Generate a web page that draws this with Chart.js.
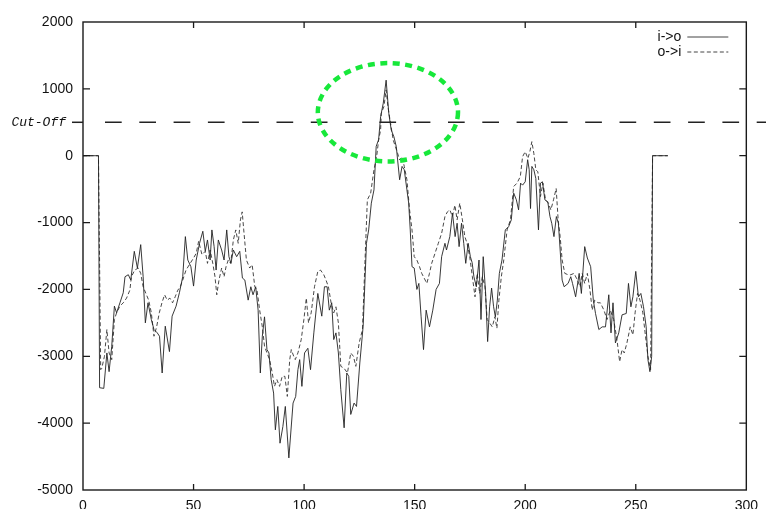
<!DOCTYPE html>
<html>
<head>
<meta charset="utf-8">
<script src="https://cdn.jsdelivr.net/npm/chart.js@4.4.0/dist/chart.umd.min.js"></script>
<style>
  html, body { margin: 0; padding: 0; background: #fff; }
</style>
</head>
<body>
<canvas id="chart" width="766" height="509"></canvas>
<script>
const seriesLabels = ['i->o', 'o->i'];

// i->o (solid)
const ioX = [0, 7, 7.5, 9.4, 10.8, 11.8, 13, 14.2, 15.2, 16.7, 18.2, 19, 20.5, 21.6, 23.2, 24.6, 26.1, 27.2, 28.2, 29.4,
  30.9, 32.1, 33.6, 34.6, 35.8, 37.2, 39.1, 40.3, 42.1, 43.6, 45.1, 46.3, 47.4, 48.8, 50, 51.2, 52.7, 54.2, 55.3, 56.3,
  57.5, 58.3, 59.3, 60.2, 61.2, 62.7, 63.8, 65, 66, 66.9, 68, 69.5, 70.9, 72.1, 73.2, 74.7, 75.9, 76.9, 78.1, 79.2,
  80.2, 81.1, 82.1, 83.2, 84.1, 85.1, 86.2, 87, 88.1, 89.1, 90.4, 91.5, 93.1, 95, 96.2, 97.2, 98, 99, 100.2, 101.7,
  102.9, 104.4, 106.2, 108, 109.2, 110.4, 111.4, 112.5, 113.4, 114.4, 115.5, 116.6, 118.1, 119.3, 120.2, 121.1, 122.6, 123.7, 125.2, 126.7,
  128.2, 129.2, 130.4, 131.6, 132.6, 133.7, 134.6, 135.8, 137.1, 138.3, 139.4, 140.6, 141.7, 142.3, 143.2, 144.3, 145.3, 146.5, 147.3, 148,
  148.8, 149.8, 151, 151.9, 152.9, 154, 155.2, 156.7, 158.2, 159.7, 161.2, 162.2, 163.7, 164.4, 165.9, 167.1, 168.3, 169.2, 170.1, 171.2,
  172.2, 173.1, 174.2, 175.2, 176, 176.8, 177.9, 179.1, 180, 181, 182.1, 183, 183.9, 184.8, 185.7, 186.5, 187.4, 188.3, 189.5, 191,
  192.5, 193.7, 194.8, 196, 197, 197.9, 198.8, 200, 201.1, 201.8, 202.4, 203, 203.9, 204.8, 206, 206.9, 207.8, 208.9, 210.2, 211.2,
  212, 213, 214.1, 215, 215.8, 216.7, 217.6, 219.4, 220.6, 221.4, 222.8, 224.4, 225.4, 226.9, 228.1, 229.6, 230.8, 231.8, 233.3, 234.8,
  236.3, 237.8, 238.8, 239.7, 240.8, 242.3, 243.8, 245.7, 246.7, 247.8, 248.7, 250, 251.2, 252.3, 253.5, 254.7, 255.5, 256.4, 257.2, 257.6,
  264.5];
const ioY = [0, 0, -3470, -3480, -2950, -3230, -2850, -2250, -2350, -2200, -2050, -1810, -1780, -1860, -1430, -1680, -1330, -1810, -2500, -2200,
  -2450, -2600, -2650, -2700, -3250, -2550, -2930, -2400, -2250, -2050, -1810, -1210, -1560, -1660, -1950, -1560, -1310, -1130, -1430, -1260,
  -1560, -1110, -1360, -1710, -1260, -1410, -1560, -1110, -1510, -1610, -1410, -1510, -1430, -1830, -1860, -2160, -1960, -2080, -1960, -2310,
  -3250, -2700, -2410, -2900, -2950, -3350, -3550, -4100, -3750, -4300, -4050, -3750, -4520, -3700, -3600, -3200, -3050, -3450, -2950, -2880,
  -3200, -2650, -2060, -2400, -1960, -1960, -2310, -2200, -2750, -2650, -2950, -3500, -4070, -3250, -3300, -3870, -3700, -3750, -3100, -2550,
  -1310, -1110, -710, -510, 140, 240, 585, 785, 1130, 635, 385, 285, 135, -65, -360, -160, -210, -510, -710, -1110,
  -1660, -1680, -2000, -1910, -2400, -2900, -2310, -2560, -2310, -2000, -1910, -1510, -1310, -1410, -1210, -860, -1210, -1010, -1360, -1010,
  -1310, -1610, -1310, -1510, -1600, -1810, -1960, -1560, -2450, -1510, -2060, -2780, -2260, -1980, -2260, -2410, -2160, -1760, -1560, -1110,
  -1060, -960, -560, -660, -810, -410, -440, -390, -60, -210, -790, -160, -210, -340, -1110, -410, -390, -660, -690, -910,
  -1010, -1210, -910, -1010, -1410, -1860, -1960, -1910, -1810, -1910, -2110, -1760, -2060, -1360, -1530, -1660, -2160, -2360, -2600, -2560,
  -2560, -2080, -2650, -2200, -2800, -2650, -2380, -2360, -1910, -2260, -2110, -1730, -2110, -2060, -2260, -2560, -3050, -3230, -3000, 0,
  0];

// o->i (dashed)
const oiX = [0, 7, 8, 8.5, 9.7, 10.8, 11.8, 13, 14.2, 15.2, 16.7, 18.2, 19.7, 21.2, 21.9, 23.4, 25, 26.1, 27.2, 28.7,
  29.7, 30.9, 32.1, 33.3, 34.5, 35.7, 36.9, 38.1, 39.3, 40.5, 41.7, 42.9, 44, 45.1, 46.6, 48.1, 50, 51.2, 52.3, 53.8,
  55.3, 56.3, 57.5, 58.7, 59.7, 60.5, 61.5, 62.7, 63.8, 64.7, 65.7, 66.8, 68, 69.1, 70.2, 71.2, 72, 72.7, 73.9, 75.4,
  76.5, 77.7, 78.7, 79.9, 81.1, 82.1, 83.2, 84.4, 85.6, 86.6, 87.7, 88.9, 90.1, 91.3, 92.4, 93.5, 94.2, 95.3, 96, 97.2,
  98.7, 99.9, 101, 102, 103.2, 104.7, 106.2, 107.4, 108.9, 109.9, 111, 112.2, 113.4, 114.4, 115.5, 116.6, 118.1, 119.6, 121.1, 122.3,
  123.4, 124.9, 126.4, 127.4, 128.6, 130.1, 131.6, 132.8, 133.7, 134.6, 134.9, 136.1, 137.1, 137.9, 139.1, 140.3, 141.3, 142.3, 143.2, 144.3,
  145.3, 146.5, 147.7, 148.8, 149.8, 151, 152.2, 153.2, 154.3, 155.5, 156.7, 157.7, 159.2, 160.7, 162.2, 163.7, 164.8, 165.9, 167.1, 168.2,
  169.2, 170.4, 171.6, 172.7, 173.7, 174.9, 176.1, 177.3, 178.3, 179.4, 180.6, 181.8, 182.8, 183.9, 185.1, 186.3, 187.2, 188.1, 189.2, 190.3,
  191.8, 193.3, 194.8, 196.3, 197.8, 198.8, 200, 201.2, 202.1, 203, 203.9, 204.8, 205.7, 206.9, 208, 209.2, 210.5, 211.6, 212.8, 214,
  214.9, 215.8, 216.7, 217.9, 219.4, 220.6, 222.1, 223.6, 224.8, 225.8, 226.9, 228.1, 229.3, 230.3, 231.4, 232.9, 234, 235.6, 237, 238.5,
  240, 241.5, 242.7, 243.8, 244.8, 246, 247.5, 248.7, 249.7, 250.8, 251.9, 253.2, 254.4, 255.5, 256.7, 257.6, 264.5];
const oiY = [0, 0, -3200, -3180, -3000, -2600, -2950, -3050, -2450, -2350, -2250, -2200, -2130, -2010, -1810, -1710, -1680, -1760, -1960, -2080,
  -2160, -2350, -2700, -2560, -2350, -2200, -2080, -2160, -2130, -2200, -2110, -2010, -1960, -1860, -1710, -1630, -1530, -1460, -1280, -1480,
  -1430, -1610, -1410, -1610, -1810, -2080, -1860, -1680, -1810, -1660, -1560, -1610, -1260, -1110, -1310, -960, -840, -1110, -1560, -1680,
  -1630, -1960, -2010, -2310, -2560, -2850, -2950, -3050, -3250, -3450, -3350, -3450, -3300, -3300, -3600, -3050, -2900, -3000, -3050, -2950,
  -2750, -2450, -2130, -2500, -2350, -1960, -1730, -1710, -1780, -1860, -1960, -2200, -2350, -2260, -2500, -3150, -3180, -3250, -2950, -3000,
  -3150, -2800, -2600, -1700, -660, -560, -210, -15, 235, 385, 635, 735, 985, 735, 485, 235, 135, 35, -65, -15,
  -160, -360, -810, -1110, -1510, -1560, -1660, -1760, -1830, -1910, -1760, -1610, -1460, -1310, -1160, -910, -840, -810, -910, -740,
  -960, -710, -960, -1210, -1310, -1510, -1810, -2110, -1760, -2060, -1810, -1960, -2450, -2500, -2560, -2410, -2580, -2160, -1810, -1560,
  -1110, -960, -460, -410, -310, -15, 60, -40, 60, 210, 35, -210, -240, -610, -410, -660, -710, -810, -660, -490,
  -960, -1210, -1560, -1760, -1780, -1780, -1760, -1860, -1960, -1760, -1910, -1760, -2010, -2310, -2160, -2200, -2200, -2310, -2450, -2310,
  -2450, -2750, -3080, -2900, -2950, -2800, -2560, -2680, -2350, -2060, -2160, -2350, -2700, -3000, -3200, 0, 0];

const xRange = [0, 300];
const yRange = [-5000, 2000];
const xStep = 50;
const yStep = 1000;
const cutOff = 500;
const cutOffLabel = 'Cut-Off';
// green ring around the peak, in data units: centre x, centre y, half width, half height
const ring = [137.9, 650, 31.7, 735];

function toPoints(xs, ys) {
  return xs.map((x, i) => ({ x: x, y: ys[i] }));
}

const labelFont = '14px "Liberation Sans", Arial, sans-serif';

const decorations = {
  id: 'decorations',
  afterDatasetsDraw(chart) {
    const ctx = chart.ctx;
    const a = chart.chartArea;
    const xs = chart.scales.x;
    const ys = chart.scales.y;
    ctx.save();

    // frame
    ctx.strokeStyle = '#1a1a1a';
    ctx.lineWidth = 1.4;
    ctx.setLineDash([]);
    ctx.strokeRect(a.left, a.top, a.right - a.left, a.bottom - a.top);

    // inward ticks on all four sides
    ctx.lineWidth = 1.3;
    ctx.beginPath();
    for (let v = xRange[0] + xStep; v < xRange[1]; v += xStep) {
      const px = xs.getPixelForValue(v);
      ctx.moveTo(px, a.bottom); ctx.lineTo(px, a.bottom - 6);
      ctx.moveTo(px, a.top); ctx.lineTo(px, a.top + 6);
    }
    for (let v = yRange[0] + yStep; v < yRange[1]; v += yStep) {
      const py = ys.getPixelForValue(v);
      ctx.moveTo(a.left, py); ctx.lineTo(a.left + 7, py);
      ctx.moveTo(a.right, py); ctx.lineTo(a.right - 7, py);
    }
    ctx.stroke();

    // cut-off line and its label
    const cy = ys.getPixelForValue(cutOff);
    ctx.strokeStyle = '#222';
    ctx.lineWidth = 1.5;
    ctx.beginPath();
    ctx.moveTo(a.left - 11, cy); ctx.lineTo(a.left, cy);
    ctx.stroke();
    ctx.setLineDash([16.7, 17.6]);
    ctx.beginPath();
    ctx.moveTo(a.left + 22, cy); ctx.lineTo(chart.width, cy);
    ctx.stroke();
    ctx.setLineDash([]);
    ctx.fillStyle = '#111';
    ctx.font = 'italic 13px "Liberation Mono", "DejaVu Sans Mono", monospace';
    ctx.textAlign = 'right';
    ctx.textBaseline = 'middle';
    ctx.fillText(cutOffLabel, a.left - 17, cy);

    // green dotted ring
    const rx = Math.abs(xs.getPixelForValue(ring[0] + ring[2]) - xs.getPixelForValue(ring[0]));
    const ry = Math.abs(ys.getPixelForValue(ring[1] + ring[3]) - ys.getPixelForValue(ring[1]));
    ctx.strokeStyle = '#17e83a';
    ctx.lineWidth = 4.5;
    ctx.setLineDash([7, 5.5]);
    ctx.beginPath();
    ctx.ellipse(xs.getPixelForValue(ring[0]), ys.getPixelForValue(ring[1]), rx, ry, 0, 0, Math.PI * 2);
    ctx.stroke();

    // key, top right
    ctx.font = labelFont;
    ctx.textAlign = 'right';
    chart.data.datasets.forEach((ds, i) => {
      const y = a.top + 15 + i * 15;
      ctx.fillStyle = '#111';
      ctx.fillText(ds.label, a.right - 65, y);
      ctx.strokeStyle = '#444';
      ctx.lineWidth = 1;
      ctx.setLineDash(ds.borderDash || []);
      ctx.beginPath();
      ctx.moveTo(a.right - 59, y); ctx.lineTo(a.right - 18, y);
      ctx.stroke();
    });
    ctx.restore();
  }
};

new Chart(document.getElementById('chart'), {
  type: 'line',
  data: {
    datasets: [
      {
        label: seriesLabels[0],
        data: toPoints(ioX, ioY),
        borderColor: '#222',
        borderWidth: 0.9,
        pointRadius: 0,
        tension: 0,
        fill: false
      },
      {
        label: seriesLabels[1],
        data: toPoints(oiX, oiY),
        borderColor: '#333',
        borderWidth: 0.9,
        borderDash: [4, 2.5],
        pointRadius: 0,
        tension: 0,
        fill: false
      }
    ]
  },
  options: {
    responsive: false,
    animation: false,
    layout: { padding: { top: 22, right: 14, left: 0, bottom: 0 } },
    plugins: { legend: { display: false }, tooltip: { enabled: false } },
    scales: {
      x: {
        type: 'linear',
        min: xRange[0],
        max: xRange[1],
        ticks: { stepSize: xStep, padding: 8, color: '#111', maxRotation: 0, autoSkip: false,
                 callback: v => String(v),
                 font: { family: '"Liberation Sans", Arial, sans-serif', size: 14 } },
        grid: { display: false, drawTicks: false },
        border: { display: false },
        afterFit: s => { s.height = 19; }
      },
      y: {
        type: 'linear',
        min: yRange[0],
        max: yRange[1],
        ticks: { stepSize: yStep, padding: 10, color: '#111',
                 callback: v => String(v),
                 font: { family: '"Liberation Sans", Arial, sans-serif', size: 14 } },
        grid: { display: false, drawTicks: false },
        border: { display: false },
        afterFit: s => { s.width = 83; }
      }
    }
  },
  plugins: [decorations]
});
</script>
</body>
</html>
